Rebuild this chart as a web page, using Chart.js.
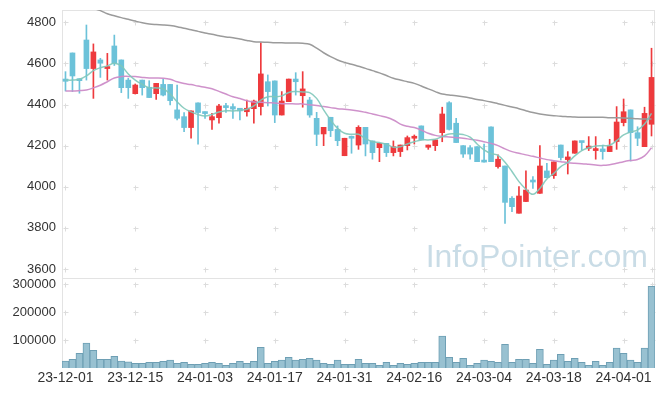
<!DOCTYPE html>
<html><head><meta charset="utf-8">
<script src="https://cdn.jsdelivr.net/npm/chart.js@4/dist/chart.umd.min.js"></script>
<style>html,body{margin:0;padding:0;background:#fff;}canvas{display:block;}</style>
</head><body>
<canvas id="c" width="665" height="396"></canvas>
<script>
// ---- data ----
const dates = [
 '23-12-01','23-12-04','23-12-05','23-12-06','23-12-07','23-12-08','23-12-11','23-12-12','23-12-13','23-12-14',
 '23-12-15','23-12-18','23-12-19','23-12-20','23-12-21','23-12-22','23-12-26','23-12-27','23-12-28','24-01-02',
 '24-01-03','24-01-04','24-01-05','24-01-08','24-01-09','24-01-10','24-01-11','24-01-12','24-01-15','24-01-16',
 '24-01-17','24-01-18','24-01-19','24-01-22','24-01-23','24-01-24','24-01-25','24-01-26','24-01-29','24-01-30',
 '24-01-31','24-02-01','24-02-02','24-02-05','24-02-06','24-02-07','24-02-08','24-02-13','24-02-14','24-02-15',
 '24-02-16','24-02-19','24-02-20','24-02-21','24-02-22','24-02-23','24-02-26','24-02-27','24-02-28','24-02-29',
 '24-03-04','24-03-05','24-03-06','24-03-07','24-03-08','24-03-11','24-03-12','24-03-13','24-03-14','24-03-15',
 '24-03-18','24-03-19','24-03-20','24-03-21','24-03-22','24-03-25','24-03-26','24-03-27','24-03-28','24-03-29',
 '24-04-01','24-04-02','24-04-03','24-04-04','24-04-05'];
const opens = [4524,4651,4523,4714,4575,4617,4575,4685,4617,4519,
 4453,4519,4484,4453,4498,4498,4374,4341,4288,4408,
 4364,4325,4336,4393,4390,4382,4365,4380,4390,4511,
 4515,4349,4414,4524,4443,4422,4333,4257,4338,4279,
 4151,4241,4203,4289,4223,4190,4211,4166,4171,4200,
 4236,4296,4192,4200,4263,4409,4309,4200,4190,4195,
 4125,4291,4098,4101,3944,3871,3928,4028,3968,4077,
 4054,4203,4132,4163,4220,4187,4176,4184,4171,4220,
 4312,4374,4263,4195,4304];
const highs = [4560,4651,4525,4787,4695,4625,4649,4738,4617,4528,
 4500,4519,4516,4503,4523,4498,4495,4361,4369,4408,
 4364,4357,4401,4406,4403,4382,4422,4422,4701,4544,
 4515,4463,4524,4555,4560,4435,4362,4289,4338,4296,
 4236,4247,4297,4289,4223,4211,4211,4223,4203,4247,
 4252,4296,4203,4228,4387,4414,4333,4200,4200,4195,
 4208,4291,4155,4101,3952,4001,4077,4049,4200,4114,
 4121,4203,4171,4223,4220,4244,4244,4203,4231,4390,
 4427,4374,4292,4387,4674];
const lows = [4466,4463,4455,4519,4430,4532,4519,4590,4458,4430,
 4451,4446,4434,4425,4442,4398,4325,4268,4236,4207,
 4333,4279,4309,4362,4333,4325,4344,4309,4349,4393,
 4312,4349,4414,4446,4387,4338,4200,4200,4244,4200,
 4151,4163,4182,4150,4134,4122,4147,4150,4147,4179,
 4208,4228,4182,4176,4219,4276,4215,4143,4134,4122,
 4120,4122,4090,3822,3879,3871,3928,3992,3968,4044,
 4041,4130,4062,4163,4179,4176,4134,4134,4171,4182,
 4296,4125,4200,4195,4247];
const closes = [4513,4539,4516,4575,4656,4601,4583,4600,4482,4482,
 4495,4482,4434,4503,4446,4419,4333,4288,4369,4361,
 4356,4341,4393,4385,4378,4369,4382,4417,4549,4463,
 4349,4417,4524,4511,4476,4349,4255,4289,4273,4224,
 4236,4236,4289,4208,4166,4211,4166,4195,4203,4239,
 4244,4228,4203,4228,4354,4279,4215,4159,4159,4122,
 4120,4122,4134,3924,3903,3955,3984,4023,4101,4044,
 4121,4142,4145,4223,4215,4198,4184,4171,4198,4315,
 4365,4263,4236,4357,4532];
const ma5 = [4519,4519,4523,4539,4565,4579,4588,4601,4588,4549,
 4519,4498,4482,4481,4477,4451,4414,4382,4364,4351,
 4344,4352,4364,4370,4369,4372,4377,4393,4422,4438,
 4438,4442,4459,4463,4461,4458,4430,4374,4325,4284,
 4260,4255,4255,4234,4219,4215,4207,4192,4195,4208,
 4219,4228,4228,4231,4244,4257,4257,4254,4241,4208,
 4179,4161,4153,4119,4074,4025,3988,3963,3992,4038,
 4065,4098,4119,4150,4176,4190,4198,4200,4202,4224,
 4252,4267,4276,4305,4357];
const ma20 = [4466,4466,4468,4471,4481,4494,4511,4529,4536,4537,
 4536,4532,4529,4529,4528,4523,4511,4502,4497,4490,
 4484,4477,4464,4451,4438,4429,4419,4412,4411,4409,
 4408,4404,4404,4403,4403,4399,4395,4390,4385,4380,
 4377,4374,4369,4362,4354,4346,4338,4325,4305,4294,
 4288,4276,4260,4250,4245,4242,4239,4236,4231,4226,
 4219,4211,4200,4184,4171,4163,4155,4148,4140,4132,
 4127,4122,4117,4114,4112,4109,4106,4104,4107,4114,
 4122,4128,4133,4150,4190];
const ma60 = [4918,4905,4893,4880,4868,4857,4842,4832,4823,4815,
 4806,4798,4792,4789,4787,4784,4779,4771,4764,4756,
 4748,4742,4735,4729,4725,4719,4712,4706,4704,4703,
 4701,4701,4699,4699,4698,4693,4674,4652,4633,4617,
 4605,4596,4586,4576,4565,4554,4541,4528,4519,4511,
 4503,4490,4476,4463,4451,4447,4443,4438,4432,4425,
 4419,4412,4404,4396,4388,4380,4370,4361,4354,4349,
 4346,4343,4341,4339,4338,4338,4338,4338,4336,4336,
 4335,4333,4331,4330,4330];
const volumes = [25000,31000,53000,89000,63000,31000,31000,42000,25000,22000,
 17000,17000,20000,20000,24000,28000,17000,20000,13000,13000,
 17000,20000,17000,10000,17000,24000,17000,24000,74000,17000,
 24000,28000,38000,28000,31000,35000,28000,17000,13000,28000,
 13000,13000,31000,17000,17000,10000,20000,10000,17000,13000,
 17000,20000,20000,20000,114000,38000,20000,35000,10000,17000,
 28000,24000,20000,85000,20000,31000,31000,17000,67000,13000,
 28000,49000,24000,35000,20000,10000,24000,10000,20000,71000,
 53000,28000,20000,71000,293000];
const priceTicks = [3600,3800,4000,4200,4400,4600,4800];
const volumeTicks = [100000,200000,300000];
const labelEvery = 10;
const watermark = 'InfoPointer.com';

// ---- styling ----
const RED = '#ee3a3d', TEAL = '#6cc2d9';
const candleColors = closes.map((c,i)=> c >= opens[i] ? RED : TEAL);
const FONT = 'Liberation Sans';

const decor = {
  id:'decor',
  beforeDatasetsDraw(chart){
    const {ctx, chartArea:a, scales} = chart;
    const y = scales.y, yv = scales.yv, x = scales.x;
    ctx.save();
    ctx.font = '32px "' + FONT + '"';
    ctx.fillStyle = '#c9dce6';
    ctx.textAlign = 'right'; ctx.textBaseline = 'alphabetic';
    ctx.fillText(watermark, a.right - 7, y.bottom - 11);
    ctx.strokeStyle = '#e3e3e3'; ctx.lineWidth = 1;
    ctx.strokeRect(Math.round(a.left)+0.5, Math.round(y.top)+0.5, Math.round(a.right-a.left)-1, Math.round(y.bottom-y.top));
    ctx.strokeRect(Math.round(a.left)+0.5, Math.round(yv.top)+0.5, Math.round(a.right-a.left)-1, Math.round(yv.bottom-yv.top)-1);
    ctx.strokeStyle = '#dcdcdc';
    const xs = [];
    dates.forEach((d,i)=>{ if(i%labelEvery===0) xs.push(x.getPixelForValue(i)); });
    xs.push(a.right - 3);
    const ys = priceTicks.map(v=>y.getPixelForValue(v)).concat(volumeTicks.map(v=>yv.getPixelForValue(v)));
    ctx.beginPath();
    for (const px of xs) for (const py of ys) {
      const X = Math.round(px)+0.5, Y = Math.round(py)+0.5;
      ctx.moveTo(X-2,Y); ctx.lineTo(X+3,Y); ctx.moveTo(X,Y-2); ctx.lineTo(X,Y+3);
    }
    ctx.stroke();
    ctx.restore();
  }
};

const lineDs = (label, data, color, order) => ({
  type:'line', label, data, borderColor:color, borderWidth:1.5, pointRadius:0,
  tension:0.4, fill:false, yAxisID:'y', order
});

const fitY = s => { s.width = 62; s.paddingTop = 0; s.paddingBottom = 0; };

new Chart(document.getElementById('c'), {
  type:'bar',
  data:{
    labels: dates,
    datasets:[
      lineDs('MA5', ma5, 'rgba(128,200,186,0.9)', 0),
      lineDs('MA20', ma20, 'rgba(204,140,200,0.95)', 0),
      lineDs('MA60', ma60, '#9b9b9b', 0),
      { label:'wick', data: lows.map((l,i)=>[l, highs[i]]), backgroundColor:candleColors,
        barThickness:1, grouped:false, yAxisID:'y', order:2 },
      { label:'body', data: opens.map((o,i)=>[o, closes[i]]), backgroundColor:candleColors,
        barThickness:5, minBarLength:2, grouped:false, yAxisID:'y', order:1 },
      { label:'volume', data: volumes, backgroundColor:'#98c1d1', borderColor:'#6e9fb4', borderWidth:1,
        barPercentage:1, categoryPercentage:1, grouped:false, yAxisID:'yv', order:3 }
    ]
  },
  options:{
    responsive:false, animation:false, devicePixelRatio:1,
    layout:{ padding:{ top:10, right:10, left:0, bottom:0 } },
    plugins:{ legend:{display:false}, tooltip:{enabled:false} },
    scales:{
      x:{
        offset:true,
        grid:{display:false, drawTicks:false}, border:{display:false},
        ticks:{ autoSkip:false, maxRotation:0, minRotation:0, padding:2, color:'#333',
          font:{family:FONT, size:14},
          callback:(v,i)=> i%labelEvery===0 ? dates[i] : '' },
        afterFit: s => { s.height = 28; s.paddingLeft = 0; s.paddingRight = 0; }
      },
      yv:{
        position:'left', stack:'panels', stackWeight:90, min:0, max:322500,
        grid:{display:false, drawTicks:false}, border:{display:false},
        ticks:{ padding:6, color:'#333', font:{family:FONT, size:13}, callback:v=>String(v) },
        afterBuildTicks: s => { s.ticks = volumeTicks.map(v=>({value:v})); },
        afterFit: fitY
      },
      y:{
        position:'left', stack:'panels', stackWeight:268, min:3556, max:4860,
        grid:{display:false, drawTicks:false}, border:{display:false},
        ticks:{ padding:6, color:'#333', font:{family:FONT, size:13}, callback:v=>String(v) },
        afterBuildTicks: s => { s.ticks = priceTicks.map(v=>({value:v})); },
        afterFit: fitY
      }
    }
  },
  plugins:[decor]
});
</script>
</body></html>
